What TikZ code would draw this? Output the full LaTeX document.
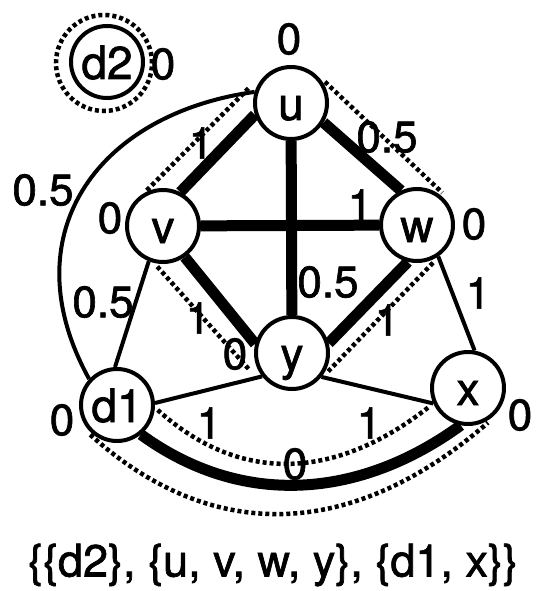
\documentclass[tikz,border=0pt]{standalone}
\usepackage{fontspec}
\setmainfont{TeX Gyre Heros}[FakeBold=1.5]
\usepackage{tikz}
\usetikzlibrary{calc}
\newcommand{\vtxfont}{\fontsize{46}{50}\selectfont}
\newcommand{\wtfont}{\fontsize{44}{50}\selectfont}
\tikzset{
  vtx/.style={circle, draw, line width=4pt, minimum size=72pt,
    inner sep=0pt, font=\vtxfont, text height=34pt, text depth=0pt},
  wlabel/.style={font=\wtfont, inner sep=0pt},
  heavy/.style={line width=11pt},
  light/.style={line width=4pt},
  hull/.style={line width=4.5pt, dash pattern=on 4pt off 3pt}
}

\begin{document}
\begin{tikzpicture}[x=1pt, y=1pt]
  \useasboundingbox (0,0) rectangle (536,-591);
  % vertices
  \node[vtx] (u)  at (291,-103) {u};
  \node[vtx] (v)  at (163,-226) {v};
  \node[vtx] (w)  at (417,-225) {w};
  \node[vtx] (y)  at (292,-353) {y};
  \node[vtx] (x)  at (468,-388) {x};
  \node[vtx] (d1) at (117,-405) {d1};
  \node[vtx] (d2) at (107,-62)  {d2};

  % edges
  \draw[heavy] (u.198) -- (v.63);
  \draw[heavy] (u.-31) -- (w.115);
  \draw[heavy] (v) -- (w);
  \draw[heavy] (u) -- (y);
  \draw[heavy] (v.-55) -- (y.166);
  \draw[heavy] (w.-104) -- (y.15);
  \draw[light] (v.248) -- (d1.93);
  \draw[light] (w.-56) -- (x.80);
  \draw[light] (d1.3) -- (y.218);
  \draw[light] (y.-39) -- (x.204);
  \draw[light] (d1.137) to[out=119, in=188, looseness=1.25] (u.163);
  \draw[heavy] (d1.-51) to[out=-36, in=-144] (x.-101);

  % cluster outlines
  \draw[hull] ($(d2)+(-3,-1)$) circle[radius=48pt];
  \draw[hull] ($(u)+(161:45pt)$) -- ($(v)+(115:39pt)$);
  \draw[hull] ($(u)+(32:40pt)$) -- ($(w)+(52:41pt)$);
  \draw[hull] ($(v)+(262:41pt)$) -- ($(y)+(201:46pt)$);
  \draw[hull] ($(w)+(-67:41pt)$) -- ($(y)+(-30:40pt)$);
  \draw[hull] ($(d1)+(-7:41pt)$) to[out=-42, in=-142, looseness=1.08] ($(x)+(206:44pt)$);
  \draw[hull] ($(d1)+(228:40pt)$) to[out=-42, in=-139, looseness=1.1] ($(x)+(-60:40pt)$);

  % weights
  \node[wlabel] (lu)   at (289,-39)  {0};
  \node[wlabel] (lv)   at (110,-218) {0};
  \node[wlabel] (lw)   at (474,-224) {0};
  \node[wlabel] (ly)   at (235,-354) {0};
  \node[wlabel] (lx)   at (520,-415) {0};
  \node[wlabel] (ld1)  at (62,-420)  {0};
  \node[wlabel] (ld2)  at (163,-64)  {0};
  \node[wlabel] (luv)  at (201,-143) {1};
  \node[wlabel] (luw)  at (387,-137) {0.5};
  \node[wlabel] (lvw)  at (360,-205) {1};
  \node[wlabel] (luy)  at (328,-282) {0.5};
  \node[wlabel] (lvy)  at (198,-318) {1};
  \node[wlabel] (lwy)  at (387,-320) {1};
  \node[wlabel] (lwx)  at (478,-293) {1};
  \node[wlabel] (lvd)  at (103,-302) {0.5};
  \node[wlabel] (lud)  at (43,-190)  {0.5};
  \node[wlabel] (ldy)  at (209,-423) {1};
  \node[wlabel] (lyx)  at (369,-423) {1};
  \node[wlabel] (ldx)  at (295,-464) {0};

  \node[font=\fontsize{45}{50}\selectfont, inner sep=0pt] (part) at (273,-565)
    {\{\{d2\}, \{u, v, w, y\}, \{d1, x\}\}};
\end{tikzpicture}
\end{document}
